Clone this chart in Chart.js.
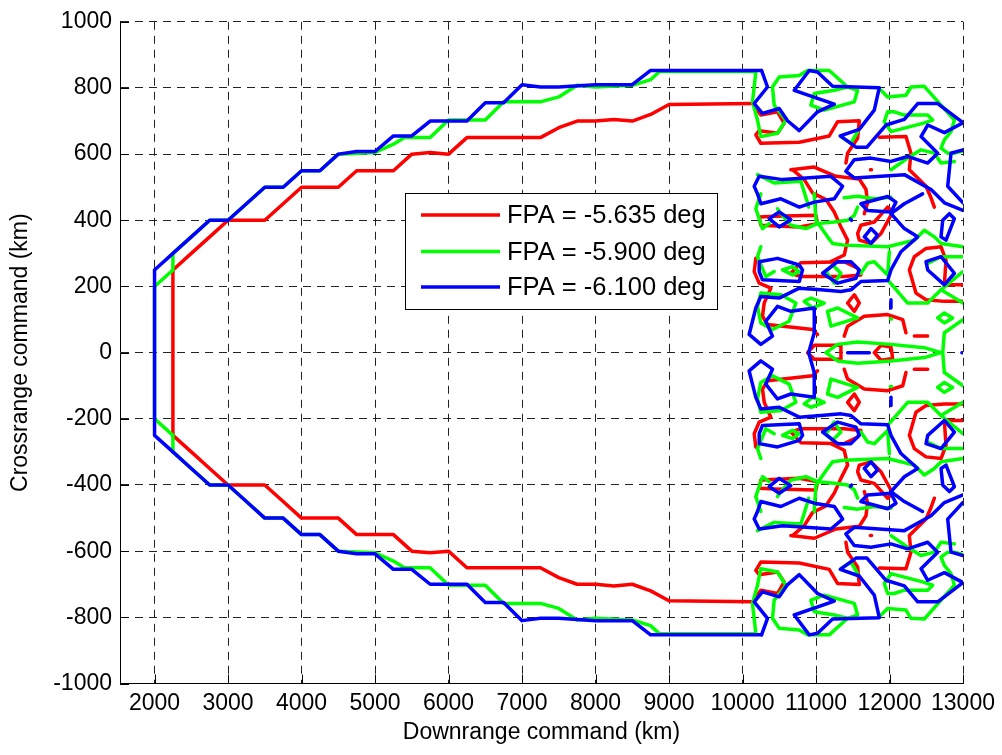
<!DOCTYPE html>
<html><head><meta charset="utf-8">
<script src="https://cdn.jsdelivr.net/npm/chart.js@4.4.1/dist/chart.umd.min.js"></script>
<style>html,body{margin:0;padding:0;background:#fff;}</style>
</head><body>
<canvas id="c" width="1002" height="755"></canvas>
<script>
// ---------------- DATA ----------------
const xTicks = [2000,3000,4000,5000,6000,7000,8000,9000,10000,11000,12000,13000];
const yTicks = [-1000,-800,-600,-400,-200,0,200,400,600,800,1000];
const legendLabels = ['FPA = -5.635 deg','FPA = -5.900 deg','FPA = -6.100 deg'];

// main envelopes
const redMain = [[10136,753],[9000,750],[8750,720],[8500,700],[8250,705],[8000,700],[7750,700],[7500,680],[7250,650],[6250,650],[6000,600],[5750,605],[5500,600],[5250,550],[4750,550],[4500,500],[4000,500],[3750,450],[3500,400],[3000,400],[2750,350],[2500,300],[2250,250],[2250,-250],[2500,-300],[2750,-350],[3000,-400],[3500,-400],[3750,-450],[4000,-500],[4500,-500],[4750,-550],[5250,-550],[5500,-600],[5750,-605],[6000,-600],[6250,-650],[7250,-650],[7500,-680],[7750,-700],[8000,-700],[8250,-705],[8500,-700],[8750,-720],[9000,-750],[10136,-753]];
const greenMain = [[10128,850],[8870,850],[8750,825],[8500,808],[8000,803],[7750,808],[7500,773],[7250,758],[6750,758],[6500,703],[6000,703],[5750,650],[5400,650],[5250,630],[5000,605],[4500,600],[4250,550],[4000,550],[3750,500],[3500,500],[3250,450],[3000,400],[2750,400],[2500,350],[2250,300],[2250,250],[2000,200],[2000,-200],[2250,-250],[2250,-300],[2500,-350],[2750,-400],[3000,-400],[3250,-450],[3500,-500],[3750,-500],[4000,-550],[4250,-550],[4500,-600],[5000,-605],[5250,-630],[5400,-650],[5750,-650],[6000,-703],[6500,-703],[6750,-758],[7250,-758],[7500,-773],[7750,-808],[8000,-803],[8500,-808],[8750,-825],[8870,-850],[10128,-850]];
const blueMain = [[10259,853],[8750,853],[8500,810],[8000,810],[7500,803],[7250,803],[7000,810],[6750,755],[6500,755],[6250,700],[5750,700],[5500,655],[5250,655],[5000,608],[4750,608],[4500,600],[4250,550],[4000,550],[3750,500],[3500,500],[3250,450],[3000,400],[2750,400],[2500,350],[2250,300],[2000,250],[2000,-250],[2250,-300],[2500,-350],[2750,-400],[3000,-400],[3250,-450],[3500,-500],[3750,-500],[4000,-550],[4250,-550],[4500,-600],[4750,-608],[5000,-608],[5250,-655],[5500,-655],[5750,-700],[6250,-700],[6500,-755],[6750,-755],[7000,-810],[7250,-803],[7500,-803],[8000,-810],[8500,-810],[8750,-853],[10259,-853]];

// red contours, x > 10000
const rU1 = [[10136,753],[10249,718],[10476,728],[10567,693],[10476,663],[10227,671],[10181,658],[10249,633],[10772,636],[11180,655],[11294,698],[11589,701],[11566,648],[11430,603],[11407,573]];
const rL1 = [[10136,-753],[10249,-718],[10476,-728],[10567,-693],[10476,-663],[10227,-671],[10181,-658],[10249,-633],[10772,-636],[11180,-655],[11294,-698],[11589,-701],[11566,-648],[11430,-603],[11407,-573]];
const rU2 = [[10658,553],[10976,561],[11271,533],[11589,525],[11680,493],[11702,453],[11657,420]];
const rL2 = [[10658,-553],[10976,-561],[11271,-533],[11589,-525],[11680,-493],[11702,-453],[11657,-420]];
const rU3 = [[10681,553],[10840,523],[10953,483],[11135,463],[11248,425],[11339,380],[11430,340],[11384,295],[11203,275]];
const rL3 = [[10681,-553],[10840,-523],[10953,-483],[11135,-463],[11248,-425],[11339,-380],[11430,-340],[11384,-295],[11203,-275]];
const rU4 = [[11861,651],[12224,653],[12292,603],[12270,553],[12497,503],[12565,468],[12610,440]];
const rL4 = [[11861,-651],[12224,-653],[12292,-603],[12270,-553],[12497,-503],[12565,-468],[12610,-440]];
const rU5 = [[11740,553],[11755,553]];
const rL5 = [[11740,-553],[11755,-553]];
const rU6 = [[10227,410],[10431,412],[10999,415],[11021,390],[10772,380],[10249,385],[10227,410]];
const rL6 = [[10227,-410],[10431,-412],[10999,-415],[11021,-390],[10772,-380],[10249,-385],[10227,-410]];
const rU7 = [[10658,240],[10794,272],[11384,275],[11566,255],[11611,235],[11384,230],[10794,230],[10658,240]];
const rL7 = [[10658,-240],[10794,-272],[11384,-275],[11566,-255],[11611,-235],[11384,-230],[10794,-230],[10658,-240]];
const rU8 = [[10181,285],[10159,245],[10227,210],[10386,195],[10295,150],[10272,110],[10340,85],[10953,70],[11021,55]];
const rL8 = [[10181,-285],[10159,-245],[10227,-210],[10386,-195],[10295,-150],[10272,-110],[10340,-85],[10953,-70],[11021,-55]];
const rU10 = [[11566,360],[11611,385],[11793,395],[11975,440],[12043,425],[11884,360],[11748,330],[11589,340],[11566,360]];
const rL10 = [[11566,-360],[11611,-385],[11793,-395],[11975,-440],[12043,-425],[11884,-360],[11748,-330],[11589,-340],[11566,-360]];
const rU11 = [[13000,205],[12746,205],[12769,280],[12701,320],[12497,315],[12338,290],[12270,250],[12360,180],[12497,160],[12746,155],[13000,155]];
const rL11 = [[13000,-205],[12746,-205],[12769,-280],[12701,-320],[12497,-315],[12338,-290],[12270,-250],[12360,-180],[12497,-160],[12746,-155],[13000,-155]];
const rU12 = [[12338,50],[12519,50]];
const rL12 = [[12338,-50],[12519,-50]];
const rU13 = [[11430,150],[11521,175],[11589,150],[11521,125],[11430,150]];
const rL13 = [[11430,-150],[11521,-175],[11589,-150],[11521,-125],[11430,-150]];
const rU14 = [[11384,50],[11430,80],[11657,110],[11975,115],[12180,100],[12224,60]];
const rL14 = [[11384,-50],[11430,-80],[11657,-110],[11975,-115],[12180,-100],[12224,-60]];
const rC1 = [[10885,0],[10976,22],[11339,22],[11339,-20],[10976,-20],[10885,0]];
const rC2 = [[11793,0],[11884,22],[12020,17],[12043,-18],[11884,-23],[11793,0]];

// green contours, x > 10000
const gU1 = [[10128,850],[10181,848],[10136,758],[10204,703],[10249,653],[10476,663],[10590,703],[10431,748],[10408,803],[10499,833],[10772,838],[10885,853],[11180,853],[11430,803],[11566,793],[11521,758],[11112,733],[10930,748],[10976,783],[11248,793],[11430,803]];
const gL1 = [[10128,-850],[10181,-848],[10136,-758],[10204,-703],[10249,-653],[10476,-663],[10590,-703],[10431,-748],[10408,-803],[10499,-833],[10772,-838],[10885,-853],[11180,-853],[11430,-803],[11566,-793],[11521,-758],[11112,-733],[10930,-748],[10976,-783],[11248,-793],[11430,-803]];
const gU2 = [[11884,793],[11975,773],[12224,778],[12292,803],[12474,805],[12701,748],[12883,703],[12837,668],[12746,643],[12701,618],[12792,603],[12883,603],[13000,610]];
const gL2 = [[11884,-793],[11975,-773],[12224,-778],[12292,-803],[12474,-805],[12701,-748],[12883,-703],[12837,-668],[12746,-643],[12701,-618],[12792,-603],[12883,-603],[13000,-610]];
const gU3 = [[11975,728],[11929,698],[12020,668],[12451,693],[12587,703],[12519,718],[12202,718],[12065,728],[11975,728]];
const gL3 = [[11975,-728],[11929,-698],[12020,-668],[12451,-693],[12587,-703],[12519,-718],[12202,-718],[12065,-728],[11975,-728]];
const gU4 = [[11339,653],[11475,633],[11566,668]];
const gL4 = [[11339,-653],[11475,-633],[11566,-668]];
const gU6 = [[12020,553],[12247,588],[12429,613],[12610,603],[12701,573],[12883,578]];
const gL6 = [[12020,-553],[12247,-588],[12429,-613],[12610,-603],[12701,-573],[12883,-578]];
const gU7 = [[10204,538],[10431,513],[10794,518],[10885,453],[10900,440]];
const gL7 = [[10204,-538],[10431,-513],[10794,-518],[10885,-453],[10900,-440]];
const gU8 = [[11384,468],[11566,473],[11793,465],[12020,470]];
const gL8 = [[11384,-468],[11566,-473],[11793,-465],[12020,-470]];
const gU9 = [[10249,480],[10181,435],[10272,375],[10363,390]];
const gL9 = [[10249,-480],[10181,-435],[10272,-375],[10363,-390]];
const gU10 = [[10476,435],[10522,420],[10658,385],[10862,375],[11021,390],[11248,395],[11430,400],[11521,415],[11566,440]];
const gL10 = [[10476,-435],[10522,-420],[10658,-385],[10862,-375],[11021,-390],[11248,-395],[11430,-400],[11521,-415],[11566,-440]];
const gU11 = [[10976,480],[10999,400],[11157,350],[11225,330],[11384,325],[11975,320],[12338,340],[12474,370],[12610,350],[12701,330],[13000,320]];
const gL11 = [[10976,-480],[10999,-400],[11157,-350],[11225,-330],[11384,-325],[11975,-320],[12338,-340],[12474,-370],[12610,-350],[12701,-330],[13000,-320]];
const gU12 = [[11135,245],[11225,265],[11339,240],[11248,210],[11135,245]];
const gL12 = [[11135,-245],[11225,-265],[11339,-240],[11248,-210],[11135,-245]];
const gU13 = [[10249,320],[10204,290],[10317,230],[10431,245]];
const gL13 = [[10249,-320],[10204,-290],[10317,-230],[10431,-245]];
const gU13b = [[10545,250],[10681,260],[10772,245],[10681,235],[10545,250]];
const gL13b = [[10545,-250],[10681,-260],[10772,-245],[10681,-235],[10545,-250]];
const gU14 = [[11611,240],[11702,270],[11793,275],[11975,235],[11998,305]];
const gL14 = [[11611,-240],[11702,-270],[11793,-275],[11975,-235],[11998,-305]];
const gU15 = [[11975,220],[12247,150],[12519,150],[12701,190],[13000,245]];
const gL15 = [[11975,-220],[12247,-150],[12519,-150],[12701,-190],[13000,-245]];
const gU16 = [[12519,270],[12701,290],[13000,290]];
const gL16 = [[12519,-270],[12701,-290],[13000,-290]];
const gU17 = [[12701,190],[13000,150]];
const gL17 = [[12701,-190],[13000,-150]];
const gU18 = [[10249,180],[10204,140],[10249,90],[10408,70],[10635,95],[10726,150],[10522,175],[10249,180]];
const gL18 = [[10249,-180],[10204,-140],[10249,-90],[10408,-70],[10635,-95],[10726,-150],[10522,-175],[10249,-180]];
const gU19 = [[10840,155],[10930,165],[11112,150],[10953,135],[10840,155]];
const gL19 = [[10840,-155],[10930,-165],[11112,-150],[10953,-135],[10840,-155]];
const gU20 = [[11157,125],[11203,80],[11566,105],[11294,135],[11157,125]];
const gL20 = [[11157,-125],[11203,-80],[11566,-105],[11294,-135],[11157,-125]];
const gU21 = [[12012,102],[12028,102]];
const gL21 = [[12012,-102],[12028,-102]];
const gU22 = [[12655,105],[12746,120],[12860,105],[12746,90],[12655,105]];
const gL22 = [[12655,-105],[12746,-120],[12860,-105],[12746,-90],[12655,-105]];
const gU23 = [[12724,0],[12746,60],[13000,100]];
const gL23 = [[12724,0],[12746,-60],[13000,-100]];
const gC1 = [[11135,0],[11294,25],[11566,32],[12020,25],[12474,15],[12701,0],[12474,-15],[12020,-25],[11566,-32],[11294,-25],[11135,0]];

// blue contours, x > 10000
const bU1 = [[10259,853],[10340,803],[10159,753],[10272,723],[10499,738],[10613,701],[10772,671],[11021,728],[11249,751],[10704,793],[10908,853],[11021,848],[11226,805],[11861,801],[11793,733],[11589,675],[11330,655],[11544,621],[11693,621],[11952,688],[12202,705],[12384,753],[12656,753],[13000,695]];
const bL1 = [[10259,-853],[10340,-803],[10159,-753],[10272,-723],[10499,-738],[10613,-701],[10772,-671],[11021,-728],[11249,-751],[10704,-793],[10908,-853],[11021,-848],[11226,-805],[11861,-801],[11793,-733],[11589,-675],[11330,-655],[11544,-621],[11693,-621],[11952,-688],[12202,-705],[12384,-753],[12656,-753],[13000,-695]];
const bU2 = [[13000,695],[12747,665],[12520,688],[12429,653],[12656,603],[12520,573],[12247,593],[12020,578],[11747,588],[11520,583],[11407,548],[11520,528],[12202,538],[12565,493],[12747,453],[13000,430]];
const bL2 = [[13000,-695],[12747,-665],[12520,-688],[12429,-653],[12656,-603],[12520,-573],[12247,-593],[12020,-578],[11747,-588],[11520,-583],[11407,-548],[11520,-528],[12202,-538],[12565,-493],[12747,-453],[13000,-430]];
const bU3 = [[13000,613],[12837,603],[12792,503],[13000,453]];
const bL3 = [[13000,-613],[12837,-603],[12792,-503],[13000,-453]];
const bU4 = [[10159,503],[10227,533],[10545,523],[10862,528],[11203,533],[11362,503],[11249,465],[10976,455],[10772,440],[10522,465],[10250,450],[10204,480],[10159,503]];
const bL4 = [[10159,-503],[10227,-533],[10545,-523],[10862,-528],[11203,-533],[11362,-503],[11249,-465],[10976,-455],[10772,-440],[10522,-465],[10250,-450],[10204,-480],[10159,-503]];
const bU5 = [[11611,450],[11975,472],[12088,455],[12020,425],[11702,430],[11611,450]];
const bL5 = [[11611,-450],[11975,-472],[12088,-455],[12020,-425],[11702,-430],[11611,-450]];
const bU6 = [[12450,480],[12202,450],[12020,420],[12202,375],[12383,350],[12156,305],[12020,250],[11975,218],[11611,215],[11475,190],[11339,185],[11067,190],[10772,195],[10499,165],[10249,170],[10181,135],[10090,55],[10249,25],[10408,50],[10317,95],[10476,140],[10658,125],[10976,135],[10976,60],[10900,0]];
const bL6 = [[12450,-480],[12202,-450],[12020,-420],[12202,-375],[12383,-350],[12156,-305],[12020,-250],[11975,-218],[11611,-215],[11475,-190],[11339,-185],[11067,-190],[10772,-195],[10499,-165],[10249,-170],[10181,-135],[10090,-55],[10249,-25],[10408,-50],[10317,-95],[10476,-140],[10658,-125],[10976,-135],[10976,-60],[10900,0]];
const bU7 = [[10227,275],[10477,285],[10772,265],[10817,250],[10772,215],[10272,220],[10227,245],[10227,275]];
const bL7 = [[10227,-275],[10477,-285],[10772,-265],[10817,-250],[10772,-215],[10272,-220],[10227,-245],[10227,-275]];
const bU8 = [[11090,240],[11294,275],[11476,275],[11589,250],[11544,225],[11294,210],[11090,240]];
const bL8 = [[11090,-240],[11294,-275],[11476,-275],[11589,-250],[11544,-225],[11294,-210],[11090,-240]];
const bU9 = [[11657,350],[11748,375],[11839,355],[11748,330],[11657,350]];
const bL9 = [[11657,-350],[11748,-375],[11839,-355],[11748,-330],[11657,-350]];
const bU10 = [[10363,405],[10499,425],[10658,402],[10499,380],[10363,405]];
const bL10 = [[10363,-405],[10499,-425],[10658,-402],[10499,-380],[10363,-405]];
const bU11 = [[12497,275],[12701,290],[12883,240],[12747,205],[12520,250],[12497,275]];
const bL11 = [[12497,-275],[12701,-290],[12883,-240],[12747,-205],[12520,-250],[12497,-275]];
const bU12 = [[12724,400],[12815,420],[12883,405],[12769,340],[12701,350],[12724,400]];
const bL12 = [[12724,-400],[12815,-420],[12883,-405],[12769,-340],[12701,-350],[12724,-400]];
const bU13 = [[12020,160],[12020,135]];
const bL13 = [[12020,-160],[12020,-135]];
const bU14 = [[11468,404],[11484,400]];
const bL14 = [[11468,-404],[11484,-400]];
const bC1 = [[11430,0],[11725,0]];
const bC2 = [[12985,0],[13000,0]];

const redPaths = [redMain,rU1,rL1,rU2,rL2,rU3,rL3,rU4,rL4,rU5,rL5,rU6,rL6,rU7,rL7,rU8,rL8,rU10,rL10,rU11,rL11,rU12,rL12,rU13,rL13,rU14,rL14,rC1,rC2];
const greenPaths = [greenMain,gU1,gL1,gU2,gL2,gU3,gL3,gU4,gL4,gU6,gL6,gU7,gL7,gU8,gL8,gU9,gL9,gU10,gL10,gU11,gL11,gU12,gL12,gU13,gL13,gU13b,gL13b,gU14,gL14,gU15,gL15,gU16,gL16,gU17,gL17,gU18,gL18,gU19,gL19,gU20,gL20,gU21,gL21,gU22,gL22,gU23,gL23,gC1];
const bluePaths = [blueMain,bU1,bL1,bU2,bL2,bU3,bL3,bU4,bL4,bU5,bL5,bU6,bL6,bU7,bL7,bU8,bL8,bU9,bL9,bU10,bL10,bU11,bL11,bU12,bL12,bU13,bL13,bU14,bL14,bC1,bC2];

// ---------------- CHART ----------------
const FONT = "'Liberation Sans', Arial, Helvetica, sans-serif";
const COLORS = ['#ff0000','#00ff00','#0000ff'];
const groups = [redPaths, greenPaths, bluePaths];

const datasets = [];
groups.forEach((paths, gi) => {
  paths.forEach((p, pi) => {
    datasets.push({
      label: legendLabels[gi] + (pi ? ' #' + pi : ''),
      data: p.map(([x, y]) => ({x, y})),
      showLine: true,
      borderColor: COLORS[gi],
      backgroundColor: COLORS[gi],
      borderWidth: 3.5,
      pointRadius: 0,
      pointHoverRadius: 0,
      tension: 0,
      fill: false,
      borderJoinStyle: 'round',
      borderCapStyle: 'round',
      order: 3 - gi
    });
  });
});

const tickMarks = {
  id: 'tickMarks',
  beforeDatasetsDraw(chart) {
    const {ctx, chartArea: a, scales: {x, y}} = chart;
    ctx.save();
    ctx.strokeStyle = '#000';
    ctx.lineWidth = 1;
    ctx.beginPath();
    x.ticks.forEach(t => {
      const px = Math.round(x.getPixelForValue(t.value)) + 0.5;
      ctx.moveTo(px, a.bottom); ctx.lineTo(px, a.bottom - 9);
    });
    y.ticks.forEach(t => {
      const py = Math.round(y.getPixelForValue(t.value)) + 0.5;
      ctx.moveTo(a.left, py); ctx.lineTo(a.left + 9, py);
    });
    ctx.stroke();
    ctx.restore();
  }
};

const legendBox = {
  id: 'legendBox',
  afterDraw(chart) {
    const ctx = chart.ctx;
    const L = 405.5, T = 193.5, W = 312, H = 116;
    ctx.save();
    ctx.fillStyle = '#fff';
    ctx.fillRect(L, T, W, H);
    ctx.strokeStyle = '#000';
    ctx.lineWidth = 1;
    ctx.strokeRect(L, T, W, H);
    const rows = [215, 251.5, 287];
    ctx.font = '25.5px ' + FONT;
    ctx.textBaseline = 'middle';
    ctx.textAlign = 'left';
    legendLabels.forEach((lab, i) => {
      ctx.strokeStyle = COLORS[i];
      ctx.lineWidth = 3.5;
      ctx.beginPath();
      ctx.moveTo(421, rows[i]); ctx.lineTo(500, rows[i]);
      ctx.stroke();
      ctx.fillStyle = '#000';
      ctx.fillText(lab, 507, rows[i] + 1);
    });
    ctx.restore();
  }
};

new Chart(document.getElementById('c'), {
  type: 'scatter',
  data: { datasets },
  options: {
    responsive: false,
    animation: false,
    layout: { padding: { left: 0, right: 39, top: 18, bottom: 0 } },
    plugins: { legend: { display: false }, tooltip: { enabled: false } },
    events: [],
    scales: {
      x: {
        type: 'linear', min: 1530, max: 13000,
        afterBuildTicks: s => { s.ticks = xTicks.map(v => ({ value: v })); },
        afterFit: s => { s.height = 71.5; },
        ticks: { font: { family: FONT, size: 23 }, color: '#000', padding: 6, autoSkip: false, maxRotation: 0, callback: v => String(v) },
        grid: { color: '#222', lineWidth: 1, drawTicks: false },
        border: { display: true, color: '#000', width: 1, dash: [8, 6] },
        title: { display: true, text: 'Downrange command (km)', font: { family: FONT, size: 23 }, color: '#000', padding: { top: 0, bottom: 9 } }
      },
      y: {
        type: 'linear', min: -1000, max: 1000,
        afterBuildTicks: s => { s.ticks = yTicks.map(v => ({ value: v })); },
        afterFit: s => { s.width = 120; },
        ticks: { font: { family: FONT, size: 23 }, color: '#000', padding: 8, autoSkip: false, callback: v => String(v) },
        grid: { color: '#222', lineWidth: 1, drawTicks: false },
        border: { display: true, color: '#000', width: 1, dash: [8, 6] },
        title: { display: true, text: 'Crossrange command (km)', font: { family: FONT, size: 23 }, color: '#000', padding: { top: 7, bottom: 0 } }
      }
    }
  },
  plugins: [tickMarks, legendBox]
});
</script>
</body></html>
